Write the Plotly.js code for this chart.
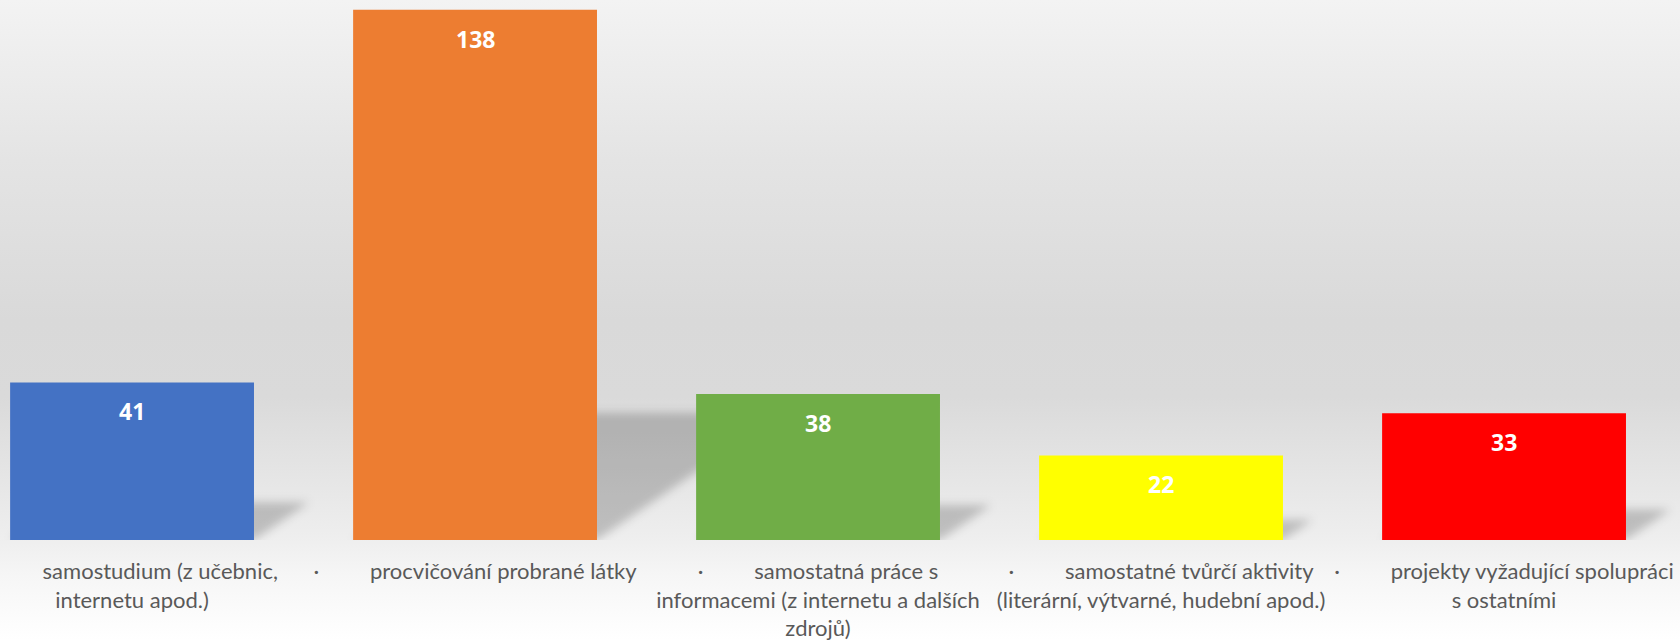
<!DOCTYPE html>
<html>
<head>
<meta charset="utf-8">
<script src="https://cdn.plot.ly/plotly-3.0.1.min.js"></script>
<style>
  html, body { margin: 0; padding: 0; background: #ffffff; }
  #chart {
    width: 1680px; height: 640px; overflow: hidden;
    background: linear-gradient(to bottom, #f3f3f3 0%, #e4e4e4 25%, #d9d9d9 50%, #dadada 62%, #eeeeee 84%, #f6f6f6 90%, #ffffff 100%);
  }
</style>
</head>
<body>
<div id="chart"></div>
<script>
const SP = '\u00A0';
const TAB = SP.repeat(9);
const categories = [
  '·' + TAB + 'samostudium (z učebnic,<br>internetu apod.)',
  '·' + TAB + 'procvičování probrané látky',
  '·' + TAB + 'samostatná práce s<br>informacemi (z internetu a dalších<br>zdrojů)',
  '·' + TAB + 'samostatné tvůrčí aktivity<br>(literární, výtvarné, hudební apod.)',
  '·' + TAB + 'projekty vyžadující spolupráci<br>s ostatními'
];
const values = [41, 138, 38, 22, 33];
const colors = ['#4472C4', '#ED7D31', '#70AD47', '#FFFF00', '#FF0000'];

const positions = categories.map((_, i) => i);
const BAR_W = 0.711;
const Y_MAX = 140;
const W = 1680, H = 640, MT = 2, MB = 100;
const X_RANGE = [-0.385, 4.513];
const pxPerY = (H - MT - MB) / Y_MAX;
const pxPerX = W / (X_RANGE[1] - X_RANGE[0]);

const shapes = values.map((v, i) => {
  const x0 = i - BAR_W / 2, x1 = i + BAR_W / 2;
  const dy = 0.24 * v;
  const dx = 0.35 * v * pxPerY / pxPerX;
  return {
    type: 'path', layer: 'below', xref: 'x', yref: 'y',
    path: `M ${x0},0 L ${x0 + dx},${dy} L ${x1 + dx},${dy} L ${x1},0 Z`,
    fillcolor: 'rgba(0,0,0,0.2)', line: { width: 0 }
  };
});

const annotations = values.map((v, i) => ({
  x: i, y: v, xref: 'x', yref: 'y', text: String(v), showarrow: false,
  yshift: -29, font: { family: 'Open Sans, sans-serif', size: 23, color: '#ffffff', weight: 'bold' }
}));

const trace = {
  type: 'bar', x: positions, y: values, width: BAR_W,
  marker: { color: colors, line: { width: 0 } },
  hoverinfo: 'skip'
};

const layout = {
  width: W, height: H,
  margin: { l: 0, r: 0, t: MT, b: MB, pad: 0 },
  paper_bgcolor: 'rgba(0,0,0,0)', plot_bgcolor: 'rgba(0,0,0,0)',
  showlegend: false, hovermode: false,
  xaxis: {
    range: X_RANGE, tickvals: positions, ticktext: categories,
    showgrid: false, zeroline: false, showline: false, ticks: '',
    ticklabelstandoff: 16, ticklabeloverflow: 'allow',
    tickfont: { family: 'Lato, sans-serif', size: 22, color: '#595959' },
    tickangle: 0, automargin: false, fixedrange: true
  },
  yaxis: { range: [0, Y_MAX], visible: false, fixedrange: true },
  shapes: shapes, annotations: annotations
};

Plotly.newPlot('chart', [trace], layout, { displayModeBar: false, staticPlot: true }).then(gd => {
  const svg = gd.querySelector('svg.main-svg');
  const ns = 'http://www.w3.org/2000/svg';
  let defs = svg.querySelector('defs');
  if (!defs) { defs = document.createElementNS(ns, 'defs'); svg.insertBefore(defs, svg.firstChild); }
  const f = document.createElementNS(ns, 'filter');
  f.setAttribute('id', 'shblur');
  f.setAttribute('filterUnits', 'userSpaceOnUse');
  f.setAttribute('x', '-100'); f.setAttribute('y', '-100');
  f.setAttribute('width', '1900'); f.setAttribute('height', '900');
  const b = document.createElementNS(ns, 'feGaussianBlur');
  b.setAttribute('stdDeviation', '5');
  f.appendChild(b); defs.appendChild(f);
  gd.querySelectorAll('.shapelayer path').forEach(p => p.setAttribute('filter', 'url(#shblur)'));
});
</script>
</body>
</html>
